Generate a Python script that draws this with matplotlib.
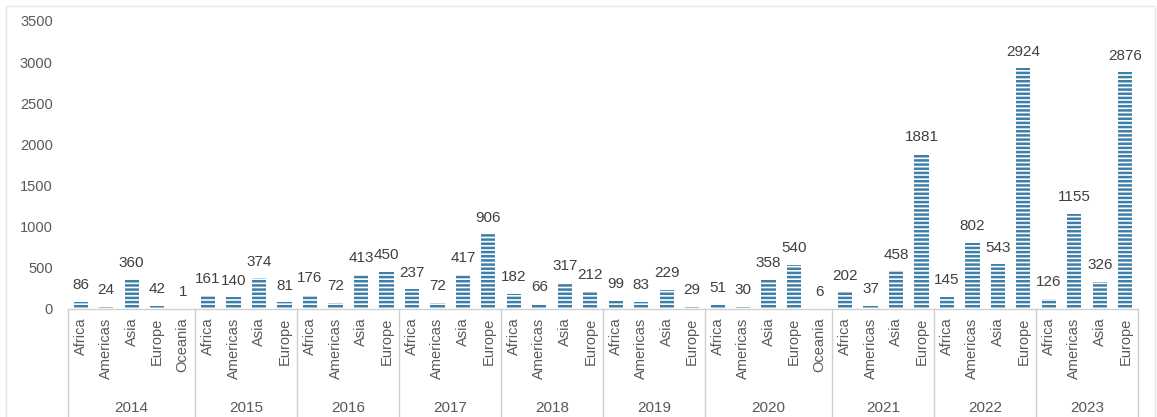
import matplotlib
matplotlib.use("Agg")
import matplotlib.pyplot as plt
from matplotlib.patches import Rectangle
import matplotlib.transforms as mtransforms

# данные: годы, регионы и значения по каждому году
years = ["2014", "2015", "2016", "2017", "2018", "2019", "2020", "2021", "2022", "2023"]
regions = [
    ["Africa", "Americas", "Asia", "Europe", "Oceania"],
    ["Africa", "Americas", "Asia", "Europe"],
    ["Africa", "Americas", "Asia", "Europe"],
    ["Africa", "Americas", "Asia", "Europe"],
    ["Africa", "Americas", "Asia", "Europe"],
    ["Africa", "Americas", "Asia", "Europe"],
    ["Africa", "Americas", "Asia", "Europe", "Oceania"],
    ["Africa", "Americas", "Asia", "Europe"],
    ["Africa", "Americas", "Asia", "Europe"],
    ["Africa", "Americas", "Asia", "Europe"],
]
values = [
    [86, 24, 360, 42, 1],
    [161, 140, 374, 81],
    [176, 72, 413, 450],
    [237, 72, 417, 906],
    [182, 66, 317, 212],
    [99, 83, 229, 29],
    [51, 30, 358, 540, 6],
    [202, 37, 458, 1881],
    [145, 802, 543, 2924],
    [126, 1155, 326, 2876],
]
y_ticks = [0, 500, 1000, 1500, 2000, 2500, 3000, 3500]

plt.rcParams["font.family"] = ["Liberation Sans", "DejaVu Sans"]
plt.rcParams["hatch.linewidth"] = 1.8

W, H = 1157, 417
fig = plt.figure(figsize=(W / 100, H / 100), dpi=100)
ax = fig.add_axes([68 / W, 1 - 309 / H, (1138 - 68) / W, (309 - 21) / H])

labels = [r for grp in regions for r in grp]
vals = [v for grp in values for v in grp]
xs = list(range(len(vals)))

ax.bar(xs, vals, width=0.56, color="white", edgecolor="#3d7fa8",
       hatch="----", linewidth=0)

for x, v in zip(xs, vals):
    ax.annotate(str(v), (x, v), xytext=(0, 7), textcoords="offset points",
                ha="center", va="bottom", fontsize=11, color="#404040")

ax.set_xlim(-0.5, len(vals) - 0.5)
ax.set_ylim(0, 3500)
ax.set_yticks(y_ticks)
ax.set_xticks(xs)
ax.set_xticklabels(labels, rotation=90, va="top", ha="center")
ax.tick_params(axis="y", length=0, pad=11, labelsize=10.5, labelcolor="#595959")
ax.tick_params(axis="x", length=0, pad=6, labelsize=10.5, labelcolor="#595959")

for s in ["top", "right", "left"]:
    ax.spines[s].set_visible(False)
ax.spines["bottom"].set_color("#d0d0d0")
ax.spines["bottom"].set_linewidth(1)

# разделители групп и подписи годов
trans = mtransforms.blended_transform_factory(ax.transData, ax.transAxes)
pos = -0.5
ax.plot([pos, pos], [0, -0.45], color="#d0d0d0", lw=1, transform=trans, clip_on=False)
for yr, grp in zip(years, values):
    n = len(grp)
    ax.text(pos + n / 2, -0.345, yr, transform=trans, ha="center", va="center",
            fontsize=11, color="#595959")
    pos += n
    ax.plot([pos, pos], [0, -0.45], color="#d0d0d0", lw=1, transform=trans, clip_on=False)

# рамка вокруг всего графика
fig.patches.append(Rectangle((6 / W, -0.05), (1155 - 6) / W, 1.05 - 6 / H,
                             transform=fig.transFigure, fill=False,
                             edgecolor="#e6e6e6", lw=1))

fig.savefig("out.png", dpi=100)
